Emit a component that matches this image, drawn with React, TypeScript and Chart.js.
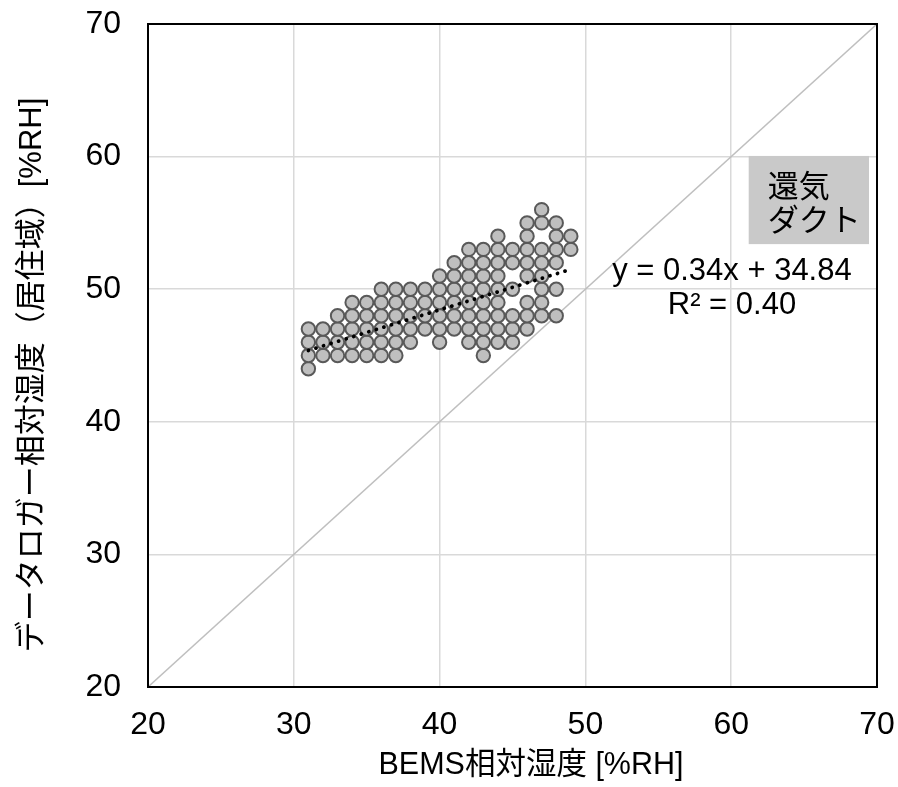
import React, { useEffect, useRef } from "react";
import { Chart, registerables } from "chart.js";

Chart.register(...registerables);

// Logger RH levels (y) and the BEMS RH values (x) observed at each level
const loggerLevels = [44, 45, 46, 47, 48, 49, 50, 51, 52, 53, 54, 55, 56];
const bemsAtLevel = [
  [31],
  [31, 32, 33, 34, 35, 36, 37, 43],
  [31, 32, 33, 34, 35, 36, 37, 38, 40, 42, 43, 44, 45],
  [31, 32, 33, 34, 35, 36, 37, 38, 39, 40, 41, 42, 43, 44, 45, 46],
  [33, 34, 35, 36, 37, 38, 39, 40, 41, 42, 43, 44, 45, 46, 47, 48],
  [34, 35, 36, 37, 38, 39, 40, 41, 42, 43, 44, 46, 47],
  [36, 37, 38, 39, 40, 41, 42, 43, 44, 45, 47, 48],
  [40, 41, 42, 43, 44, 46, 47],
  [41, 42, 43, 44, 45, 46, 47, 48],
  [42, 43, 44, 45, 46, 47, 48, 49],
  [44, 46, 48, 49],
  [46, 47, 48],
  [47],
];

// Linear trend line endpoints (y = 0.34x + 34.84)
const trendX = [31, 49];
const trendY = [45.38, 51.5];

// 1:1 reference line
const refX = [20, 70];
const refY = [20, 70];

const axisMin = 20;
const axisMax = 70;
const axisStep = 10;

const xTitle = "BEMS相対湿度 [%RH]";
const yTitle = "データロガー相対湿度（居住域）[%RH]";
const equationText = "y = 0.34x + 34.84";
const r2Text = "R² = 0.40";
const labelLines = ["還気", "ダクト"];

const FONT = "'Liberation Sans', Arial, 'Noto Sans CJK JP', sans-serif";

export default function App() {
  const ref = useRef<HTMLCanvasElement | null>(null);

  useEffect(() => {
    const canvas = ref.current;
    if (!canvas) return;

    const scatterPts: { x: number; y: number }[] = [];
    loggerLevels.forEach((lv, i) => {
      bemsAtLevel[i].forEach((bx) => scatterPts.push({ x: bx, y: lv }));
    });
    const trendPts = trendX.map((x, i) => ({ x, y: trendY[i] }));
    const refPts = refX.map((x, i) => ({ x, y: refY[i] }));

    const overlay = {
      id: "overlay",
      afterDraw(chart: any) {
        const { ctx, chartArea, scales } = chart;
        const xs = scales.x;
        const ys = scales.y;
        ctx.save();
        // plot border
        ctx.strokeStyle = "#000000";
        ctx.lineWidth = 2;
        ctx.strokeRect(
          chartArea.left,
          chartArea.top,
          chartArea.right - chartArea.left,
          chartArea.bottom - chartArea.top
        );
        // label box
        const bx0 = xs.getPixelForValue(61.2);
        const bx1 = xs.getPixelForValue(69.45);
        const by0 = ys.getPixelForValue(60.05);
        const by1 = ys.getPixelForValue(53.4);
        ctx.fillStyle = "#c9c9c9";
        ctx.fillRect(bx0, by0, bx1 - bx0, by1 - by0);
        ctx.fillStyle = "#000000";
        ctx.font = `31px ${FONT}`;
        ctx.textBaseline = "middle";
        ctx.textAlign = "left";
        const tx = xs.getPixelForValue(62.5);
        ctx.fillText(labelLines[0], tx, ys.getPixelForValue(57.63));
        ctx.fillText(labelLines[1], tx, ys.getPixelForValue(55.07));
        // equation
        ctx.textAlign = "center";
        ctx.fillText(equationText, xs.getPixelForValue(60.05), ys.getPixelForValue(51.37));
        ctx.fillText(r2Text, xs.getPixelForValue(60.05), ys.getPixelForValue(48.8));
        // axis titles
        ctx.font = `30.5px ${FONT}`;
        ctx.fillText(xTitle, 531, 766);
        ctx.translate(32, 375);
        ctx.rotate(-Math.PI / 2);
        ctx.font = `31px ${FONT}`;
        ctx.fillText(yTitle, 0, 0);
        ctx.restore();
      },
    };

    const chart = new Chart(canvas, {
      type: "scatter",
      data: {
        datasets: [
          {
            type: "line",
            data: refPts,
            borderColor: "#bfbfbf",
            borderWidth: 1.5,
            pointRadius: 0,
            fill: false,
            order: 3,
          },
          {
            data: scatterPts,
            backgroundColor: "#bfbfbf",
            borderColor: "#595959",
            borderWidth: 2,
            pointRadius: 6.7,
            order: 2,
          },
          {
            type: "line",
            data: trendPts,
            borderColor: "#000000",
            borderWidth: 3.8,
            borderDash: [0.1, 7.8],
            borderCapStyle: "round",
            pointRadius: 0,
            fill: false,
            order: 1,
          },
        ] as any,
      },
      options: {
        responsive: false,
        animation: false,
        events: [],
        layout: { padding: { top: 24, right: 21, left: 0, bottom: 0 } },
        plugins: {
          legend: { display: false },
          tooltip: { enabled: false },
        },
        scales: {
          x: {
            type: "linear",
            min: axisMin,
            max: axisMax,
            ticks: {
              stepSize: axisStep,
              color: "#000000",
              font: { family: FONT, size: 32 },
              padding: 19,
            },
            grid: { color: "#d9d9d9", lineWidth: 1.5, drawTicks: false },
            border: { display: false },
            title: { display: false },
            afterFit(axis: any) {
              axis.height = 100;
              axis.paddingLeft = 0;
              axis.paddingRight = 0;
              axis.paddingTop = 0;
              axis.paddingBottom = 0;
            },
          },
          y: {
            type: "linear",
            min: axisMin,
            max: axisMax,
            ticks: {
              stepSize: axisStep,
              color: "#000000",
              font: { family: FONT, size: 32 },
              padding: 27,
            },
            grid: { color: "#d9d9d9", lineWidth: 1.5, drawTicks: false },
            border: { display: false },
            title: { display: false },
            afterFit(axis: any) {
              axis.width = 148;
              axis.paddingLeft = 0;
              axis.paddingRight = 0;
              axis.paddingTop = 0;
              axis.paddingBottom = 0;
            },
          },
        },
      },
      plugins: [overlay],
    });

    return () => chart.destroy();
  }, []);

  return (
    <canvas
      ref={ref}
      width={898}
      height={787}
      style={{ position: "absolute", left: 0, top: 0, display: "block" }}
    />
  );
}
